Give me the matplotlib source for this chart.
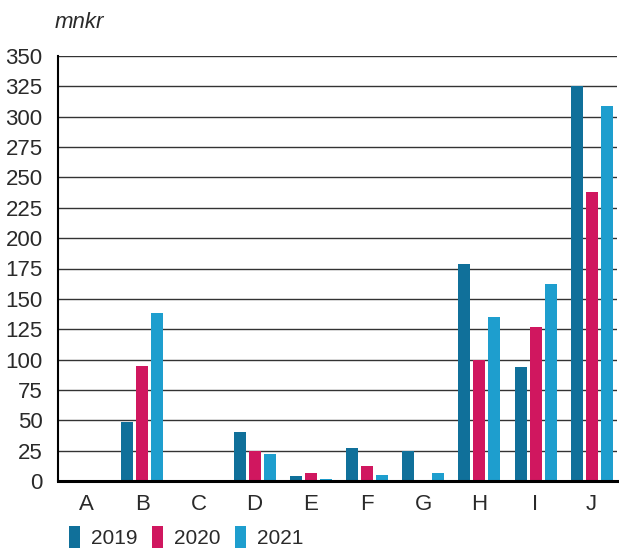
import matplotlib
matplotlib.use('Agg')
import matplotlib.pyplot as plt
from matplotlib.patches import Patch
import numpy as np

# data
categories = ['A', 'B', 'C', 'D', 'E', 'F', 'G', 'H', 'I', 'J']
years = ['2019', '2020', '2021']
v2019 = [0, 49, 0, 40, 4, 27, 25, 179, 94, 325]
v2020 = [0, 95, 0, 25, 7, 12, 0, 100, 127, 238]
v2021 = [0, 138, 0, 22, 2, 5, 7, 135, 162, 309]
colors = ['#10709a', '#d0175f', '#1e9ece']

plt.rcParams['font.family'] = ['Liberation Sans', 'DejaVu Sans']
fs = 16
txt = '#2a2a2a'

fig = plt.figure(figsize=(6.19, 5.49), dpi=100)
ax = fig.add_axes([58 / 619, 1 - 481 / 549, 559 / 619, 425 / 549])

x = np.arange(len(categories))
width = 0.213
step = 0.267
for i, vals in enumerate([v2019, v2020, v2021]):
    ax.bar(x + (i - 1) * step, vals, width=width, color=colors[i], zorder=3)

ax.set_xlim(-0.5, 9.45)
ax.set_ylim(0, 350)
ax.set_yticks(range(0, 351, 25))
ax.set_xticks(x)
ax.set_xticklabels(categories)
ax.tick_params(axis='both', length=0, labelsize=fs, colors=txt)
ax.tick_params(axis='y', pad=11)
ax.tick_params(axis='x', pad=9)
ax.grid(axis='y', color='#333333', linewidth=1, zorder=1)
ax.set_axisbelow(True)

for s in ['top', 'right']:
    ax.spines[s].set_visible(False)
ax.spines['left'].set_linewidth(1.5)
ax.spines['bottom'].set_linewidth(2.2)
ax.spines['bottom'].set_zorder(4)

fig.text(55 / 619, 1 - 22 / 549, 'mnkr', fontsize=fs, style='italic',
         color=txt, va='center', ha='left')

handles = [Patch(facecolor=c, edgecolor='none') for c in colors]
fig.legend(handles, years, loc='center left', bbox_to_anchor=(69 / 619, 1 - 537 / 549),
           ncol=3, frameon=False, fontsize=15, handlelength=0.55, handleheight=1.25,
           handletextpad=0.5, columnspacing=0.7, borderaxespad=0, borderpad=0,
           labelcolor=txt)

plt.savefig('out.png', dpi=100)
plt.close()
